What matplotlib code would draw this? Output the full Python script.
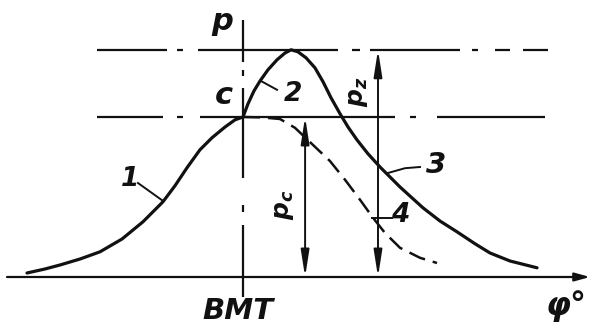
import numpy as np
import matplotlib.pyplot as plt

plt.rcParams['lines.scale_dashes'] = False
plt.rcParams['mathtext.fontset'] = 'custom'
plt.rcParams['mathtext.it'] = 'DejaVu Sans:italic:bold'
plt.rcParams['mathtext.rm'] = 'DejaVu Sans:bold'

# crank angle from TDC (deg) and cylinder pressure (MPa), firing cycle: 1 - 2 - 3
phi_fire = [-160.0, -146.7, -135.6, -120.7, -105.9, -89.6, -74.1, -59.3, -50.4,
            -41.5, -31.9, -23.0, -13.3, -5.9, 0.0,
            3.7, 8.1, 12.6, 18.5, 25.2, 31.1, 35.6,
            40.7, 46.7, 53.3, 59.3, 65.2, 71.9, 77.8, 84.4, 92.6, 101.5,
            116.3, 133.3, 145.9, 158.5, 171.9, 183.0, 197.8, 217.8]
p_fire = [0.10, 0.20, 0.30, 0.45, 0.63, 0.95, 1.38, 1.88, 2.28,
          2.73, 3.18, 3.48, 3.75, 3.93, 4.00,
          4.33, 4.65, 4.90, 5.18, 5.43, 5.60, 5.68,
          5.63, 5.48, 5.23, 4.88, 4.48, 4.08, 3.75, 3.43, 3.08, 2.75,
          2.25, 1.73, 1.40, 1.13, 0.83, 0.60, 0.40, 0.23]

# motored cycle after TDC (curve 4)
phi_motor = [0.0, 14.1, 27.4, 38.5, 51.9, 64.4, 75.6, 86.7, 96.3, 105.2, 116.3, 131.1, 143.7]
p_motor = [4.00, 3.99, 3.95, 3.73, 3.30, 2.90, 2.43, 1.93, 1.48, 1.10, 0.73, 0.48, 0.35]

p_c = 4.0
p_z = 5.68
phi_pc = 46.0
phi_pz = 100.0

INK = '#111111'
PX = 0.72  # points per pixel at 100 dpi

fig = plt.figure(figsize=(5.9, 3.35), dpi=100)
ax = fig.add_axes([0, 0, 1, 1])
ax.set_xlim(-180, 257.04)
ax.set_ylim(-1.45, 6.925)
ax.axis('off')

font = dict(family='DejaVu Sans', weight='bold', style='italic', color=INK)

# chain lines through p_z, p_c and TDC
ax.plot([-108.1, 225.9], [p_z, p_z], color=INK, lw=1.6, solid_capstyle='butt',
        dashes=[v * PX for v in [70, 10, 6, 15, 140, 14, 8, 10, 90, 12, 6, 17, 15, 13, 25, 10]])
ax.plot([-108.1, 223.7], [p_c, p_c], color=INK, lw=1.6, solid_capstyle='butt',
        dashes=[v * PX for v in [66, 14, 6, 17, 195, 15, 6, 21, 108, 10]])
ax.plot([0, 0], [6.425, -0.5], color=INK, lw=1.6, solid_capstyle='butt',
        dashes=[v * PX for v in [42, 8, 6, 12, 90, 27, 7, 13, 72, 10]])

# crank angle axis
ax.annotate('', xy=(257.0, 0), xytext=(-174.8, 0),
            arrowprops=dict(arrowstyle='-|>,head_length=0.9,head_width=0.25', lw=1.6,
                            color=INK, shrinkA=0, shrinkB=0, mutation_scale=10))

# pressure curves
ax.plot(phi_fire, p_fire, color=INK, lw=2.3, solid_capstyle='round', solid_joinstyle='round')
ax.plot(phi_motor, p_motor, color=INK, lw=1.8, dashes=[17 * PX, 8 * PX])

# dimension arrows for p_c and p_z
dim = dict(arrowstyle='<|-|>,head_length=1.6,head_width=0.25', lw=1.4, color=INK,
           shrinkA=0, shrinkB=0, mutation_scale=10)
ax.annotate('', xy=(phi_pc, p_c), xytext=(phi_pc, 0), arrowprops=dim)
ax.annotate('', xy=(phi_pz, p_z), xytext=(phi_pz, 0), arrowprops=dim)

# leaders for curve numbers
ax.plot([-77.8, -60.0], [2.35, 1.92], color=INK, lw=1.4)
ax.plot([13.3, 25.2], [4.9, 4.68], color=INK, lw=1.4)
ax.plot([107.4, 120.0, 131.1], [2.6, 2.72, 2.75], color=INK, lw=1.4)
ax.plot([95.6, 110.4], [1.475, 1.475], color=INK, lw=1.4)

ax.text(-15.6, 6.4, 'p', fontsize=22, ha='center', va='center', **font)
ax.text(-14.1, 4.55, 'c', fontsize=22, ha='center', va='center', **font)
ax.text(37.0, 4.58, '2', fontsize=19, ha='center', va='center', **font)
ax.text(-84.0, 2.45, '1', fontsize=19, ha='center', va='center', **font)
ax.text(143.0, 2.8, '3', fontsize=21, ha='center', va='center', **font)
ax.text(116.3, 1.55, '4', fontsize=19, ha='center', va='center', **font)
ax.text(85.2, 4.62, r'$p_z$', fontsize=18, rotation=90, ha='center', va='center', color=INK)
ax.text(30.4, 1.8, r'$p_c$', fontsize=18, rotation=90, ha='center', va='center', color=INK)
ax.text(-3.7, -0.85, 'BMT', fontsize=21, ha='center', va='center', **font)
ax.text(239.0, -0.72, 'φ°', fontsize=23, ha='center', va='center', **font)

fig.savefig('out.png', dpi=100)
